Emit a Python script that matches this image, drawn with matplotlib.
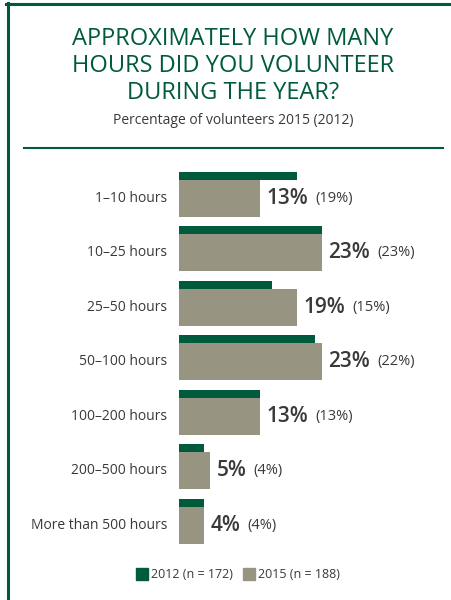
import matplotlib.pyplot as plt
from matplotlib.lines import Line2D

# Hours volunteered, share of volunteers (%)
categories = ['1–10 hours', '10–25 hours', '25–50 hours', '50–100 hours',
              '100–200 hours', '200–500 hours', 'More than 500 hours']
pct_2015 = [13, 23, 19, 23, 13, 5, 4]
pct_2012 = [19, 23, 15, 22, 13, 4, 4]

green = '#005a3c'
khaki = '#979481'
dark = '#3b3838'

plt.rcParams['font.family'] = ['Open Sans', 'DejaVu Sans']

W, H = 452, 600
fig = plt.figure(figsize=(W / 100, H / 100), dpi=100)

# frame: top rule, left rule, rule under the heading
fig.add_artist(Line2D([6 / W, 1], [1 - 4 / H, 1 - 4 / H], color=green, lw=2.2))
fig.add_artist(Line2D([7.5 / W, 7.5 / W], [0, 1 - 3 / H], color=green, lw=2.2))
fig.add_artist(Line2D([24 / W, 443 / W], [1 - 148 / H, 1 - 148 / H], color=green, lw=1.5))

fig.text(233 / W, 1 - 66 / H,
         'APPROXIMATELY HOW MANY\nHOURS DID YOU VOLUNTEER\nDURING THE YEAR?',
         ha='center', va='center', color=green, fontsize=17, linespacing=1.15)
fig.text(233 / W, 1 - 121 / H, 'Percentage of volunteers 2015 (2012)',
         ha='center', va='center', color=dark, fontsize=10)

# bar axes: 1 row = 54.5 px, 1 % = 6.2 px
row = 54.5
top_px, bot_px = 198 - 0.7 * row, 198 + 6.7 * row
left_px = 179
ax = fig.add_axes([left_px / W, 1 - bot_px / H, 40 * 6.2 / W, (bot_px - top_px) / H])
ax.set_xlim(0, 40)
ax.set_ylim(6.7, -0.7)
ax.axis('off')

y = list(range(len(categories)))
gh = 37 / row
strip = 8 / row
# 2012 shown as a thin strip sitting on top of each 2015 bar
ax.barh([v - gh / 2 - strip / 2 for v in y], pct_2012, height=strip, color=green)
ax.barh(y, pct_2015, height=gh, color=khaki)

for i, (cat, a, b) in enumerate(zip(categories, pct_2015, pct_2012)):
    ax.text(-12 / 6.2, i, cat, ha='right', va='center', color=dark, fontsize=10)
    t = ax.annotate(f'{a}%', (a, i), xytext=(5, 0), textcoords='offset points',
                    ha='left', va='center', color=dark, fontsize=15, fontweight='semibold')
    ax.annotate(f'({b}%)', (1, 0.5), xycoords=t, xytext=(5, 0),
                textcoords='offset points', ha='left', va='center',
                color=dark, fontsize=10.5)

# legend
fig.patches.append(plt.Rectangle((136 / W, 1 - 580 / H), 12 / W, 12 / H,
                                 transform=fig.transFigure, color=green))
fig.text(151 / W, 1 - 575 / H, '2012 (n = 172)', ha='left', va='center',
         color=dark, fontsize=9)
fig.patches.append(plt.Rectangle((243 / W, 1 - 580 / H), 12 / W, 12 / H,
                                 transform=fig.transFigure, color=khaki))
fig.text(258 / W, 1 - 575 / H, '2015 (n = 188)', ha='left', va='center',
         color=dark, fontsize=9)

fig.savefig('out.png', dpi=100)
